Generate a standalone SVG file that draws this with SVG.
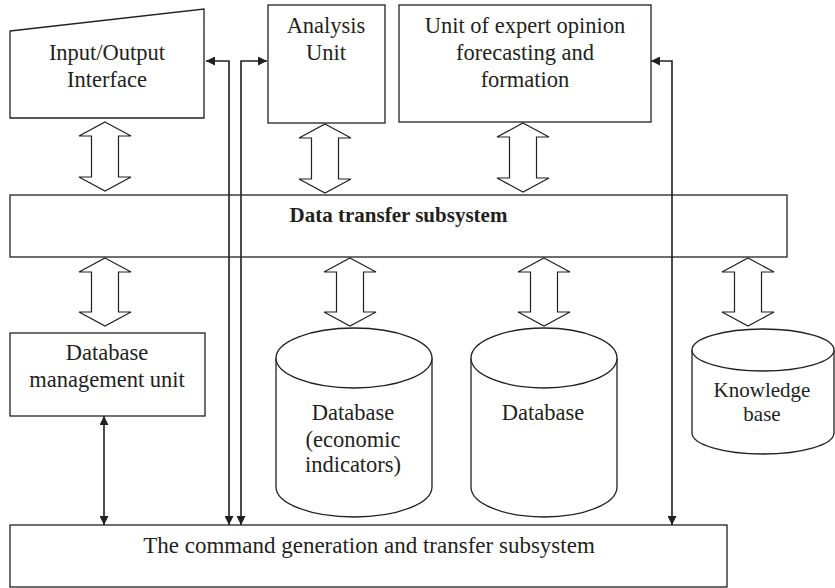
<svg xmlns="http://www.w3.org/2000/svg" width="835" height="588" viewBox="0 0 835 588">
<style>
.b{fill:#fff;stroke:#231f20;stroke-width:1.3}
.h{fill:#fff;stroke:#231f20;stroke-width:1.2;stroke-linejoin:miter}
.l{fill:none;stroke:#231f20;stroke-width:1.6}
text{font-family:"Liberation Serif","Times New Roman",serif;font-size:22.5px;fill:#231f20;text-anchor:middle}
.bold{font-weight:bold;font-size:21px}
</style>
<defs>
<marker id="ah" viewBox="0 0 10 10" refX="10" refY="5" markerWidth="9" markerHeight="9" markerUnits="userSpaceOnUse" orient="auto-start-reverse">
<path d="M0,0 L10,5 L0,10 Z" fill="#231f20"/>
</marker>
</defs>
<rect width="835" height="588" fill="#fff"/>

<g id="io">
<path class="b" d="M10,31 L204,9 L204,118 L10,118 Z"/>
<text x="107" y="60">Input/Output</text>
<text x="107" y="87">Interface</text>
</g>
<g id="analysis">
<rect class="b" x="268" y="5" width="117" height="118"/>
<text x="326" y="33">Analysis</text>
<text x="326" y="60">Unit</text>
</g>
<g id="expert">
<rect class="b" x="399" y="5" width="252" height="117"/>
<text x="525" y="33">Unit of expert opinion</text>
<text x="525" y="60">forecasting and</text>
<text x="525" y="87">formation</text>
</g>
<g id="dts">
<rect class="b" x="10" y="195" width="777" height="62"/>
<text class="bold" x="398.5" y="222">Data transfer subsystem</text>
</g>
<g id="dbm">
<rect class="b" x="10" y="333" width="195" height="83"/>
<text x="107" y="360">Database</text>
<text x="107" y="387">management unit</text>
</g>
<g id="dbecon">
<path class="b" d="M276,358 A78,30 0 0,1 432,358 V487 A78,30 0 0,1 276,487 Z"/>
<path class="b" fill="none" d="M276,358 A78,30 0 0,0 432,358"/>
<text x="353" y="420">Database</text>
<text x="353" y="447">(economic</text>
<text x="353" y="472">indicators)</text>
</g>
<g id="db">
<path class="b" d="M471,358 A73,30 0 0,1 617,358 V487 A73,30 0 0,1 471,487 Z"/>
<path class="b" fill="none" d="M471,358 A73,30 0 0,0 617,358"/>
<text x="543" y="420">Database</text>
</g>
<g id="kb">
<path class="b" d="M692,350 A71,21 0 0,1 834,350 V433 A71,21 0 0,1 692,433 Z"/>
<path class="b" fill="none" d="M692,350 A71,21 0 0,0 834,350"/>
<text x="762" y="397" style="font-size:21px">Knowledge</text>
<text x="762" y="421" style="font-size:21px">base</text>
</g>
<g id="cmd">
<rect class="b" x="10" y="525" width="717" height="62"/>
<text x="369" y="553" style="font-size:23px">The command generation and transfer subsystem</text>
</g>

<g id="connectors">
<path class="h" d="M105,122 L131,136 L118.5,136 L118.5,177 L131,177 L105,191 L79,177 L91.5,177 L91.5,136 L79,136 Z"/>
<path class="h" d="M325,124 L351,138 L338.5,138 L338.5,179 L351,179 L325,193 L299,179 L311.5,179 L311.5,138 L299,138 Z"/>
<path class="h" d="M523,123 L549,137 L536.5,137 L536.5,178 L549,178 L523,192 L497,178 L509.5,178 L509.5,137 L497,137 Z"/>
<path class="h" d="M105,258 L131,272 L118.5,272 L118.5,312 L131,312 L105,326 L79,312 L91.5,312 L91.5,272 L79,272 Z"/>
<path class="h" d="M350,258 L376,272 L363.5,272 L363.5,312 L376,312 L350,326 L324,312 L336.5,312 L336.5,272 L324,272 Z"/>
<path class="h" d="M544,258 L570,272 L557.5,272 L557.5,312 L570,312 L544,326 L518,312 L530.5,312 L530.5,272 L518,272 Z"/>
<path class="h" d="M748,258 L774,272 L761.5,272 L761.5,312 L774,312 L748,326 L722,312 L734.5,312 L734.5,272 L722,272 Z"/>
<path class="l" d="M206,61 H229 V525" marker-start="url(#ah)" marker-end="url(#ah)"/>
<path class="l" d="M241,525 V61 H267" marker-start="url(#ah)" marker-end="url(#ah)"/>
<path class="l" d="M651,61 H672 V525" marker-start="url(#ah)" marker-end="url(#ah)"/>
<path class="l" d="M104,416 V525" marker-start="url(#ah)" marker-end="url(#ah)"/>
</g>
</svg>
